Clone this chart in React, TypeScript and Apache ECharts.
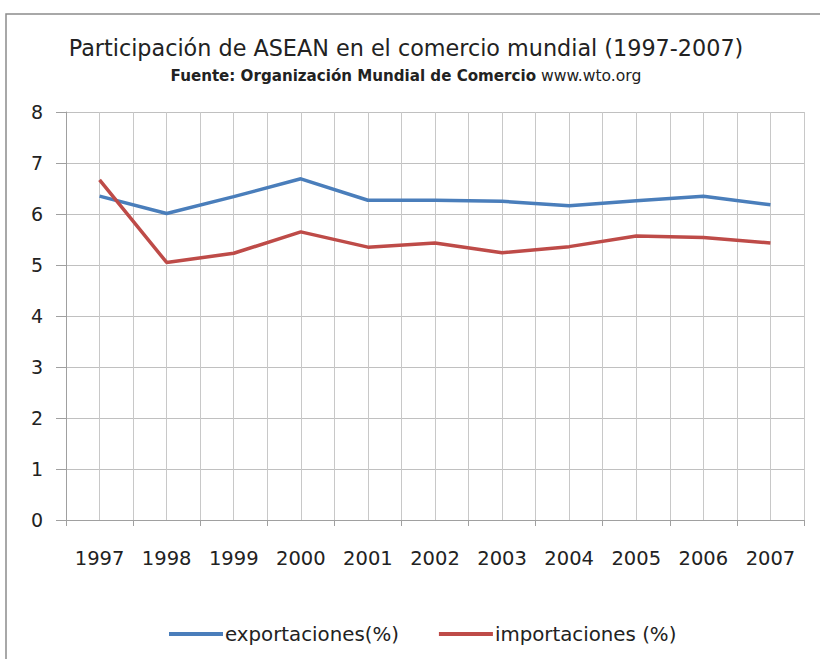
import React, { useEffect, useRef } from "react";
import * as echarts from "echarts";

const years = ["1997", "1998", "1999", "2000", "2001", "2002", "2003", "2004", "2005", "2006", "2007"];
const exportaciones = [6.35, 6.01, 6.34, 6.69, 6.27, 6.27, 6.25, 6.16, 6.26, 6.35, 6.18];
const importaciones = [6.67, 5.05, 5.23, 5.65, 5.35, 5.43, 5.24, 5.36, 5.57, 5.54, 5.43];
const yTicks = [0, 1, 2, 3, 4, 5, 6, 7, 8];

const titleText = "Participación de ASEAN en el comercio mundial (1997-2007)";
const subtitleBold = "Fuente: Organización Mundial de Comercio";
const subtitleNormal = " www.wto.org";

export default function App() {
  const ref = useRef<HTMLDivElement>(null);
  useEffect(() => {
    const chart = echarts.init(ref.current!, undefined, { renderer: "svg" });
    const font = "'DejaVu Sans', sans-serif";
    chart.setOption({
      animation: false,
      backgroundColor: "#ffffff",
      graphic: [
        {
          type: "rect",
          shape: { x: 6, y: 14, width: 1000, height: 1000 },
          style: { fill: "none", stroke: "#8c8c8c", lineWidth: 1.5 },
          silent: true,
        },
        {
          type: "text",
          x: 406,
          y: 48,
          style: {
            text: titleText,
            fontFamily: font,
            fontSize: 22.3,
            fill: "#222",
            align: "center",
            verticalAlign: "middle",
          },
        },
        {
          type: "text",
          x: 406,
          y: 76,
          style: {
            text: "{b|" + subtitleBold + "}{n|" + subtitleNormal + "}",
            fontFamily: font,
            fontSize: 15,
            fill: "#222",
            align: "center",
            verticalAlign: "middle",
            rich: {
              b: { fontFamily: font, fontSize: 15.1, fontWeight: "bold", fill: "#222" },
              n: { fontFamily: font, fontSize: 15.6, fill: "#222" },
            },
          },
        },
      ],
      grid: { left: 66, right: 16, top: 112, bottom: 139, containLabel: false },
      legend: {
        left: 164,
        top: 619,
        icon: "rect",
        itemWidth: 54,
        itemHeight: 4,
        itemGap: 40,
        textStyle: { fontFamily: font, fontSize: 19.8, color: "#222", padding: [0, 0, 0, -3] },
        data: ["exportaciones(%)", "importaciones (%)"],
      },
      xAxis: [
        {
          type: "category",
          data: years,
          boundaryGap: true,
          axisLine: { show: true, lineStyle: { color: "#a0a0a0", width: 1 } },
          axisTick: { show: true, length: 6, lineStyle: { color: "#a0a0a0" } },
          axisLabel: { fontFamily: font, fontSize: 19.5, color: "#222", margin: 28 },
          splitLine: { show: false },
        },
        {
          type: "value",
          min: 0,
          max: 22,
          interval: 1,
          position: "bottom",
          axisLine: { show: false },
          axisTick: { show: false },
          axisLabel: { show: false },
          splitLine: { show: true, lineStyle: { color: "#c8c8c8", width: 1 } },
        },
      ],
      yAxis: {
        type: "value",
        min: yTicks[0],
        max: yTicks[yTicks.length - 1],
        interval: 1,
        axisLine: { show: true, lineStyle: { color: "#a0a0a0", width: 1 } },
        axisTick: { show: true, length: 10, lineStyle: { color: "#a0a0a0" } },
        axisLabel: { fontFamily: font, fontSize: 19, color: "#222", margin: 23 },
        splitLine: { show: true, lineStyle: { color: "#c0c0c0", width: 1 } },
      },
      series: [
        {
          name: "exportaciones(%)",
          type: "line",
          data: exportaciones,
          symbol: "none",
          lineStyle: { color: "#4a7ebb", width: 3.5 },
          itemStyle: { color: "#4a7ebb" },
        },
        {
          name: "importaciones (%)",
          type: "line",
          data: importaciones,
          symbol: "none",
          lineStyle: { color: "#be4b48", width: 3.5 },
          itemStyle: { color: "#be4b48" },
        },
      ],
    });
    return () => chart.dispose();
  }, []);
  return (
    <div
      ref={ref}
      style={{ position: "absolute", left: 0, top: 0, width: 820, height: 659 }}
    />
  );
}
